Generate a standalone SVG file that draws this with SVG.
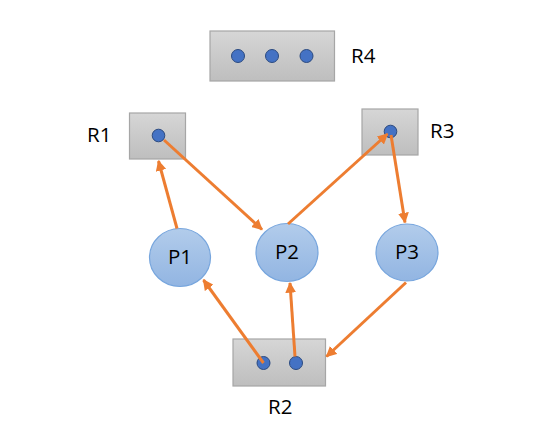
<svg xmlns="http://www.w3.org/2000/svg" width="535" height="443" viewBox="0 0 535 443">
<defs>
<linearGradient id="gbox" x1="0" y1="0" x2="0" y2="1"><stop offset="0" stop-color="#D6D6D6"/><stop offset="1" stop-color="#BEBEBE"/></linearGradient>
<linearGradient id="gp" x1="0" y1="0" x2="0" y2="1"><stop offset="0" stop-color="#B2CCEB"/><stop offset="1" stop-color="#92B5E2"/></linearGradient>
<marker id="ah" viewBox="0 0 10 10" refX="9" refY="5" markerWidth="3.6" markerHeight="3.6" orient="auto" markerUnits="strokeWidth"><path d="M0,0 L10,5 L0,10 z" fill="#ED7D31"/></marker>
<style>
.box{fill:url(#gbox);stroke:#A6A6A6;stroke-width:1.2}
.dot{fill:#4472C4;stroke:#2B4A80;stroke-width:1}
.proc{fill:url(#gp);stroke:#76A5DD;stroke-width:1.2}
.lbl{font-family:"Open Sans","Liberation Sans",sans-serif;font-size:20.5px;fill:#000}
.c{stroke:#ED7D31;stroke-width:3;fill:none;marker-end:url(#ah)}
</style>
</defs>
<g id="R4"><rect class="box" x="210" y="31" width="124.5" height="50"/><circle class="dot" cx="238" cy="56" r="6.5"/><circle class="dot" cx="272" cy="56" r="6.5"/><circle class="dot" cx="306.5" cy="56" r="6.5"/><text class="lbl" x="351" y="63">R4</text></g>
<g id="R1"><rect class="box" x="129.5" y="113" width="56" height="46"/><circle class="dot" cx="158.5" cy="135.5" r="6.3"/><text class="lbl" x="87" y="142">R1</text></g>
<g id="R3"><rect class="box" x="362" y="109" width="56" height="46"/><circle class="dot" cx="390.5" cy="131.5" r="6.3"/><text class="lbl" x="430" y="138">R3</text></g>
<g id="R2"><rect class="box" x="233" y="339" width="92.5" height="47"/><circle class="dot" cx="263.5" cy="363" r="6.5"/><circle class="dot" cx="296" cy="363" r="6.5"/><text class="lbl" x="268" y="414">R2</text></g>
<g id="P1"><ellipse class="proc" cx="180" cy="257.5" rx="30.5" ry="29"/><text class="lbl" x="180" y="264" text-anchor="middle">P1</text></g>
<g id="P2"><ellipse class="proc" cx="287" cy="252.5" rx="31" ry="29"/><text class="lbl" x="287" y="259" text-anchor="middle">P2</text></g>
<g id="P3"><ellipse class="proc" cx="407" cy="252.5" rx="31" ry="28.5"/><text class="lbl" x="407" y="259" text-anchor="middle">P3</text></g>
<g id="connectors">
<line class="c" x1="177" y1="228.5" x2="158.5" y2="161"/>
<line class="c" x1="164" y1="140" x2="262" y2="229.5"/>
<line class="c" x1="288" y1="224" x2="387.5" y2="134"/>
<line class="c" x1="391" y1="135" x2="405" y2="222.5"/>
<line class="c" x1="406" y1="282.5" x2="326.5" y2="356.5"/>
<line class="c" x1="263.5" y1="363" x2="203.5" y2="280"/>
<line class="c" x1="295" y1="356.5" x2="290" y2="283"/>
</g>
</svg>
